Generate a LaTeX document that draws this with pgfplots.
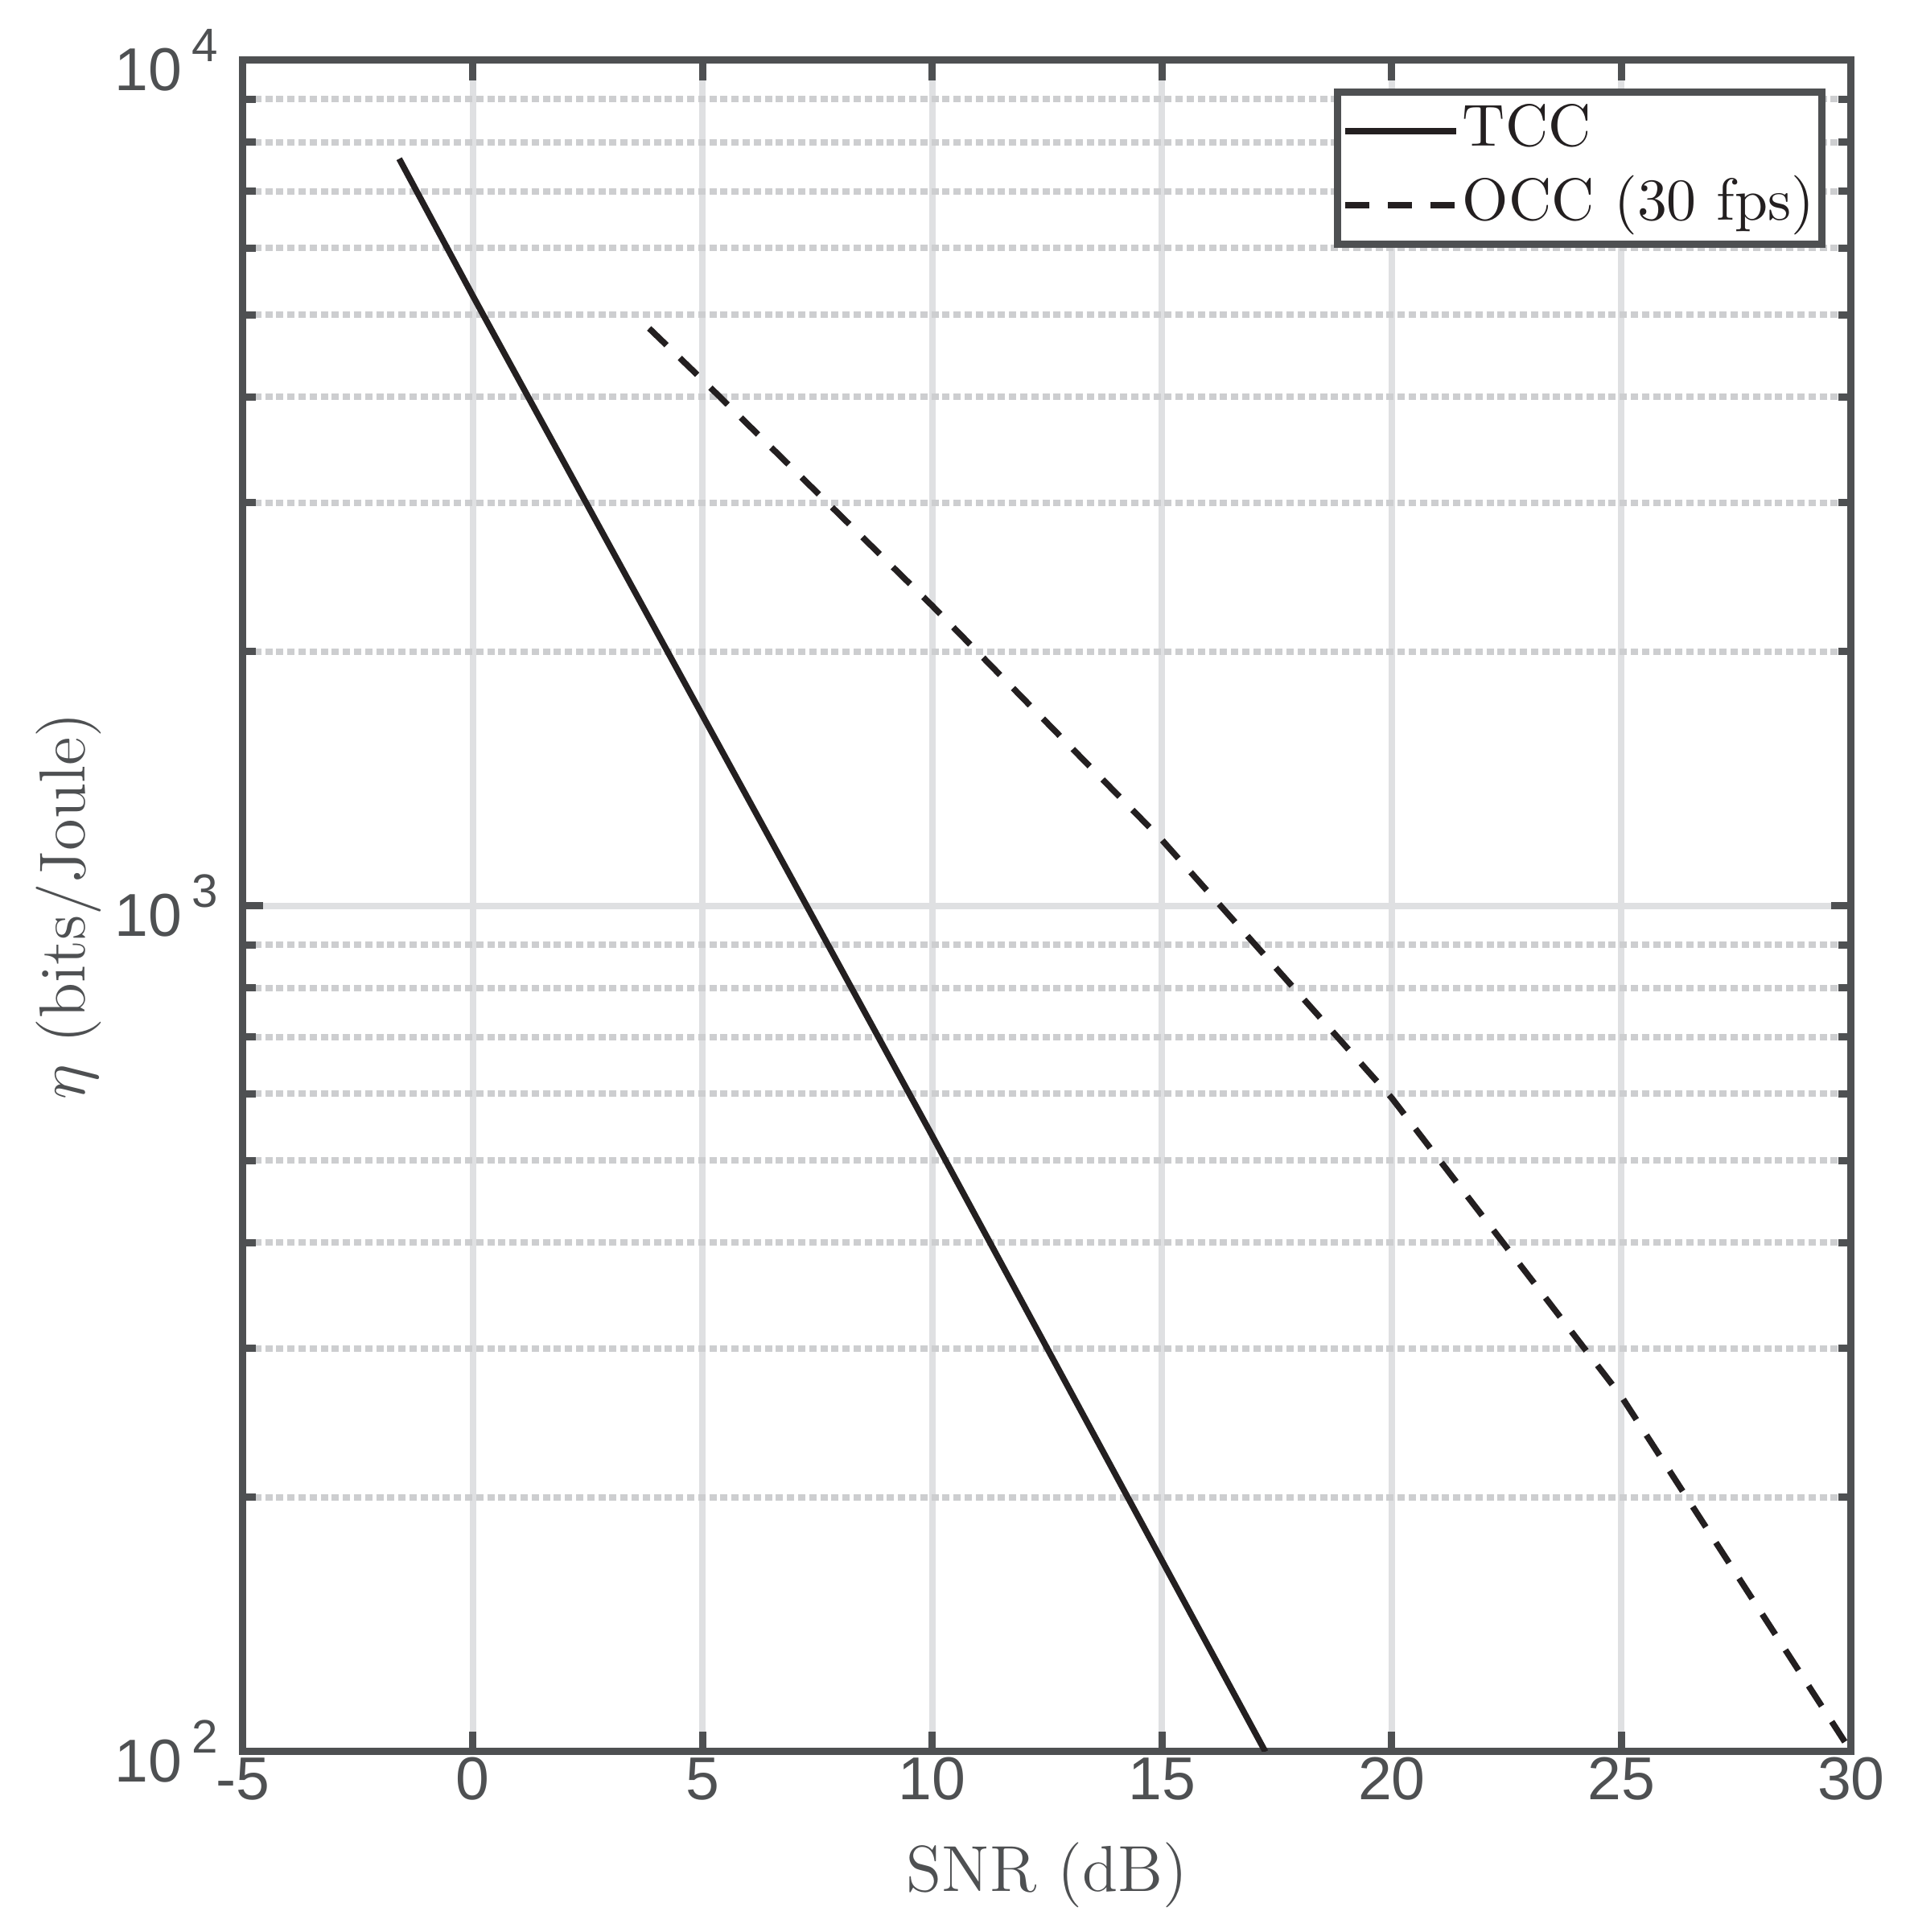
\documentclass[border=0pt]{standalone}
\usepackage{fontspec}
\usepackage{pgfplots}
\pgfplotsset{compat=1.18}
\newfontfamily\ticksans{Liberation Sans}
\definecolor{axgray}{RGB}{78,80,82}
\definecolor{gridmaj}{RGB}{223,224,226}
\definecolor{gridmin}{RGB}{205,206,208}
\definecolor{curve}{RGB}{35,31,32}
% MATLAB-style power label: 10 with a raised exponent
\newcommand{\tenpow}[1]{10\hspace{0.6mm}\raisebox{1.8mm}{\fontsize{8.3}{8.3}\selectfont #1}}

\begin{document}
\begin{tikzpicture}
\begin{axis}[
    scale only axis,
    width=99.95mm, height=105.1mm,
    ymode=log,
    xmin=-5, xmax=30, ymin=100, ymax=10000,
    xtick={-5,0,...,30},
    xticklabels={-5,0,5,10,15,20,25,30},
    ytick={100,1000,10000},
    yticklabels={\tenpow{2},\tenpow{3},\tenpow{4}},
    tick pos=both, tick align=inside,
    major tick length=1.25mm, minor tick length=0.8mm,
    every tick/.style={axgray, line width=0.45mm},
    axis line style={axgray, line width=0.45mm},
    xmajorgrids, ymajorgrids, yminorgrids,
    major grid style={gridmaj, line width=0.4mm},
    minor grid style={gridmin, line width=0.4mm, dash pattern=on 0.45mm off 0.24mm},
    ticklabel style={font=\ticksans\fontsize{10.7}{12}\selectfont, text=axgray, inner sep=0pt},
    xticklabel style={anchor=north, yshift=-0.3mm},
    yticklabel style={anchor=east, xshift=-1.5mm},
    xlabel={SNR (dB)},
    ylabel={$\eta$ (bits/Joule)},
    every axis x label/.style={at={(axis description cs:0.5,0)}, anchor=base, yshift=-8.7mm,
        font=\fontsize{11.5}{13}\selectfont, text=axgray},
    every axis y label/.style={at={(axis description cs:0,0.5)}, xshift=-9.8mm, rotate=90, anchor=base,
        font=\fontsize{11.5}{13}\selectfont, text=axgray},
    legend style={at={(rel axis cs:1,1)}, anchor=north east, xshift=-1.6mm, yshift=-1.75mm,
        draw=axgray, line width=0.45mm, fill=white, text=curve,
        font=\fontsize{10.5}{12}\selectfont,
        inner xsep=0.28mm, inner ysep=0.6mm, row sep=0.95mm,
        nodes={inner ysep=0pt, inner xsep=0.2mm, text height=2.75mm, text depth=0.9mm}},
    legend cell align=left,
    legend image code/.code={\draw[#1] (0mm,0mm) -- (6.9mm,0mm);},
]
\coordinate (bl) at (rel axis cs:0,0);
\coordinate (tr) at (rel axis cs:1,1);

\addplot[curve, line width=0.38mm] coordinates {
    (-1.6,7650) (0,5270) (7.27,1000) (10,535) (17.25,100)
};
\addlegendentry{TCC}

\addplot[curve, line width=0.38mm, dash pattern=on 1.5mm off 1.15mm] coordinates {
    (3.84,4820) (5,4190) (10,2265) (15,1197) (20,593) (25,263) (30,100)
};
\addlegendentry{OCC (30 fps)}
\end{axis}
\pgfresetboundingbox
\path ([shift={(-15.1mm,-11.2mm)}]bl) rectangle ([shift={(3.9mm,3.75mm)}]tr);
\end{tikzpicture}
\end{document}
